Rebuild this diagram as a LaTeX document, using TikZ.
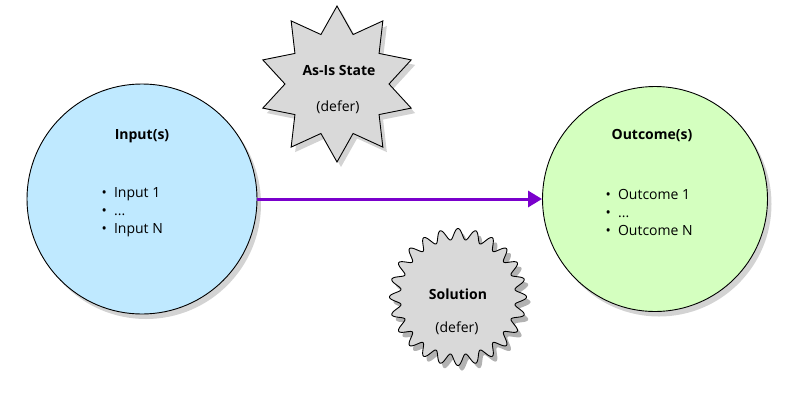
\documentclass[tikz,border=0pt]{standalone}
\usepackage{fontspec}
\setmainfont{Open Sans}
\usetikzlibrary{shapes.geometric,shadows,arrows.meta}
\begin{document}
\begin{tikzpicture}[x=1pt,y=-1pt,
  sh/.style={drop shadow={opacity=0.35,shadow xshift=4pt,shadow yshift=-5pt}},
  circ/.style={circle,draw=black,line width=0.9pt,minimum size=#1,inner sep=0pt,sh},
  hd/.style={font=\fontsize{14}{16}\selectfont\bfseries},
  tx/.style={font=\fontsize{14}{18}\selectfont}]
\useasboundingbox (0,0) rectangle (800,400);
\node[circ=230pt,fill={rgb,255:red,191;green,233;blue,255}] (in) at (142,199) {};
\node[circ=225pt,fill={rgb,255:red,212;green,255;blue,191}] (out) at (655,199) {};
\node[star,star points=10,star point ratio=1.5,minimum size=156pt,draw=black,line width=0.9pt,fill={rgb,255:red,217;green,217;blue,217},sh,inner sep=0pt] (st) at (337,84) {};
\fill[black,opacity=0.3] plot[domain=0:359.5,samples=720] ({462+(63+5.5*cos(24*\x))*cos(\x)},{302+(63+5.5*cos(24*\x))*sin(\x)}) -- cycle;
\draw[line width=0.9pt,fill={rgb,255:red,217;green,217;blue,217}] plot[domain=0:359.5,samples=720] ({458+(63+5.5*cos(24*\x))*cos(\x)},{297+(63+5.5*cos(24*\x))*sin(\x)}) -- cycle;
\node[hd] (inh) at (142,136) {Input(s)};
\node[tx,align=left,anchor=west] (inl) at (98,212) {\textbullet\ \ Input 1\\\textbullet\ \ ...\\\textbullet\ \ Input N};
\node[hd] (outh) at (652,136) {Outcome(s)};
\node[tx,align=left,anchor=west] (outl) at (602,212) {\textbullet\ \ Outcome 1\\\textbullet\ \ ...\\\textbullet\ \ Outcome N};
\node[hd] (sth) at (339,70) {As-Is State};
\node[tx] (std) at (338,107) {(defer)};
\node[hd] (gh) at (458,294) {Solution};
\node[tx] (gd) at (457,328) {(defer)};
\draw[line width=3pt,draw={rgb,255:red,122;green,0;blue,204},-{Triangle[length=14pt,width=16pt]}] (in.east) -- (out.west);
\end{tikzpicture}
\end{document}
